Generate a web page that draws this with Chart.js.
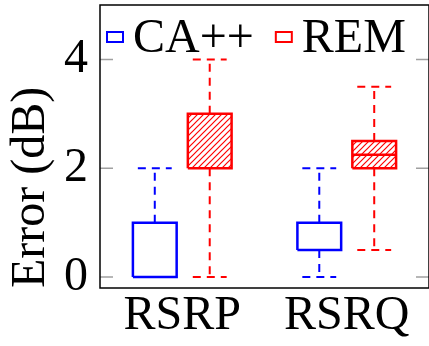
<!DOCTYPE html>
<html lang="en">
<head>
<meta charset="UTF-8">
<title>Error boxplot - CA++ vs REM</title>
<script src="https://cdn.jsdelivr.net/npm/chart.js"></script>
<style>
  body { margin: 0; background: #fff; }
</style>
</head>
<body>
<canvas id="chart" width="429" height="346"></canvas>
<script>
// categories and series
const categories = ['RSRP', 'RSRQ'];
const seriesNames = ['CA++', 'REM'];
const seriesColors = ['#0000ff', '#ff0000'];

// box statistics (dB), one value per category
const caMin = [0, 0];
const caQ1 = [0, 0.5];
const caMedian = [0, 0.5];
const caQ3 = [1, 1];
const caMax = [2, 2];

const remMin = [0, 0.5];
const remQ1 = [2, 2];
const remMedian = [2, 2.25];
const remQ3 = [3, 2.5];
const remMax = [4, 3.5];

const yTicks = [0, 2, 4];

const stats = [
  { min: caMin, q1: caQ1, med: caMedian, q3: caQ3, max: caMax },
  { min: remMin, q1: remQ1, med: remMedian, q3: remQ3, max: remMax }
];

// layout of one group (in x units, 1 = distance between categories)
const offsets = [-0.167, 0.167];
const halfBox = 0.133;
const halfCap = 0.103;
const serif = "'Liberation Serif', 'DejaVu Serif', 'Noto Serif', 'Times New Roman', serif";

const canvas = document.getElementById('chart');
const ctx = canvas.getContext('2d');

// north east lines pattern
function hatch(color) {
  const s = 6;
  const c = document.createElement('canvas');
  c.width = s;
  c.height = s;
  const g = c.getContext('2d');
  g.strokeStyle = color;
  g.lineWidth = 1.2;
  g.beginPath();
  g.moveTo(0, s); g.lineTo(s, 0);
  g.moveTo(-1, 1); g.lineTo(1, -1);
  g.moveTo(s - 1, s + 1); g.lineTo(s + 1, s - 1);
  g.stroke();
  return ctx.createPattern(c, 'repeat');
}

const fills = [false, hatch('#ff0000')];

const datasets = [];

// whiskers first, boxes drawn over them
stats.forEach((st, s) => {
  const pts = [];
  categories.forEach((cat, i) => {
    const xc = i + 1 + offsets[s];
    pts.push(
      { x: xc, y: st.q3[i] }, { x: xc, y: st.max[i] }, { x: xc, y: null },
      { x: xc - halfCap, y: st.max[i] }, { x: xc + halfCap, y: st.max[i] }, { x: xc, y: null },
      { x: xc, y: st.q1[i] }, { x: xc, y: st.min[i] }, { x: xc, y: null },
      { x: xc - halfCap, y: st.min[i] }, { x: xc + halfCap, y: st.min[i] }, { x: xc, y: null }
    );
  });
  datasets.push({
    label: seriesNames[s] + ' whiskers',
    data: pts,
    borderColor: seriesColors[s],
    borderWidth: 2,
    borderDash: [8, 6],
    pointRadius: 0,
    fill: false,
    spanGaps: false
  });
});

stats.forEach((st, s) => {
  categories.forEach((cat, i) => {
    const xc = i + 1 + offsets[s];
    const x0 = xc - halfBox, x1 = xc + halfBox;
    datasets.push({
      label: seriesNames[s] + ' ' + cat,
      data: [
        { x: x0, y: st.q1[i] }, { x: x0, y: st.q3[i] }, { x: x1, y: st.q3[i] },
        { x: x1, y: st.q1[i] }, { x: x0, y: st.q1[i] },
        { x: x0, y: null },
        { x: x0, y: st.med[i] }, { x: x1, y: st.med[i] }
      ],
      borderColor: seriesColors[s],
      backgroundColor: fills[s] || 'transparent',
      borderWidth: 2.5,
      borderJoinStyle: 'miter',
      pointRadius: 0,
      fill: fills[s] ? 'shape' : false
    });
  });
});

// plot frame and inner grey tick marks
const framePlugin = {
  id: 'frame',
  beforeDatasetsDraw(chart) {
    const { ctx, chartArea: a, scales: { y } } = chart;
    ctx.save();
    ctx.strokeStyle = '#a0a0a0';
    ctx.lineWidth = 1.5;
    yTicks.forEach(v => {
      const py = y.getPixelForValue(v);
      ctx.beginPath();
      ctx.moveTo(a.left, py); ctx.lineTo(a.left + 13, py);
      ctx.moveTo(a.right - 13, py); ctx.lineTo(a.right, py);
      ctx.stroke();
    });
    ctx.restore();
  },
  afterDatasetsDraw(chart) {
    const { ctx, chartArea: a } = chart;
    ctx.save();
    ctx.strokeStyle = '#000';
    ctx.lineWidth = 1.5;
    ctx.strokeRect(a.left, a.top, a.right - a.left, a.bottom - a.top);
    ctx.restore();
  }
};

// legend inside the plot, top left, like the pgfplots one
const legendPlugin = {
  id: 'boxLegend',
  afterDraw(chart) {
    const { ctx, chartArea: a } = chart;
    ctx.save();
    ctx.font = '48px ' + serif;
    ctx.textBaseline = 'alphabetic';
    ctx.textAlign = 'left';
    ctx.fillStyle = '#000';
    let x = a.left + 7;
    const base = a.top + 47;
    seriesNames.forEach((n, s) => {
      ctx.strokeStyle = seriesColors[s];
      ctx.lineWidth = 2;
      ctx.strokeRect(x, base - 20, 16, 10);
      x += 26;
      ctx.fillText(n, x, base);
      x += ctx.measureText(n).width + 22;
    });
    ctx.restore();
  }
};

Chart.defaults.color = '#000';
Chart.defaults.font.family = serif;

new Chart(ctx, {
  type: 'line',
  data: { datasets: datasets },
  options: {
    responsive: false,
    animation: false,
    layout: { padding: { top: 5, right: -2, left: 0, bottom: 0 } },
    plugins: {
      tooltip: { enabled: false },
      legend: { display: false }
    },
    scales: {
      x: {
        type: 'linear',
        min: 0.5,
        max: 2.5,
        grid: { display: false, drawTicks: false },
        border: { display: false },
        afterBuildTicks: (scale) => { scale.ticks = categories.map((c, i) => ({ value: i + 1 })); },
        afterFit: (scale) => {
          scale.height = 58;
          scale.paddingLeft = 0;
          scale.paddingRight = 0;
        },
        ticks: {
          autoSkip: false,
          maxRotation: 0,
          padding: 0,
          font: { size: 48, lineHeight: 1.2 },
          callback: (v) => categories[v - 1] || ''
        }
      },
      y: {
        min: -0.2,
        max: 5,
        grid: { display: false, drawTicks: false },
        border: { display: false },
        afterBuildTicks: (scale) => { scale.ticks = yTicks.map(v => ({ value: v })); },
        afterFit: (scale) => {
          scale.width = 100;
          scale.paddingTop = 0;
          scale.paddingBottom = 0;
        },
        ticks: {
          padding: 12,
          font: { size: 48, lineHeight: 1.2 }
        },
        title: {
          display: true,
          text: 'Error (dB)',
          align: 'start',
          font: { size: 48, lineHeight: 1 },
          padding: { top: 7, bottom: 0 }
        }
      }
    }
  },
  plugins: [framePlugin, legendPlugin]
});
</script>
</body>
</html>
